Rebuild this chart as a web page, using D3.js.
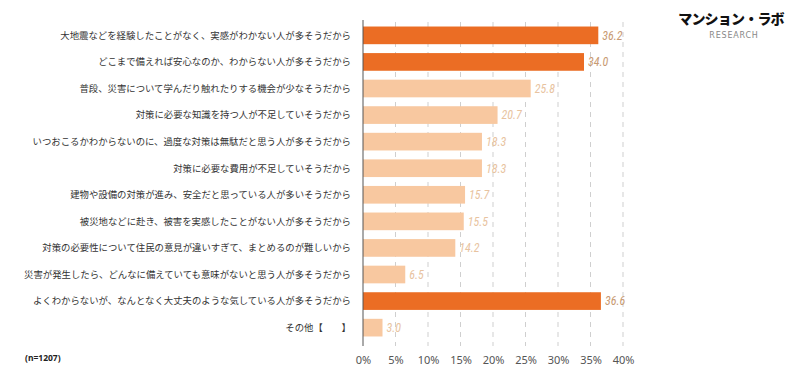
<!DOCTYPE html>
<html><head><meta charset="utf-8">
<script src="https://cdn.jsdelivr.net/npm/d3@7"></script>
<style>body{margin:0;background:#fff}</style>
</head><body>
<script>
const categories = [
 "大地震などを経験したことがなく、実感がわかない人が多そうだから",
 "どこまで備えれば安心なのか、わからない人が多そうだから",
 "普段、災害について学んだり触れたりする機会が少なそうだから",
 "対策に必要な知識を持つ人が不足していそうだから",
 "いつおこるかわからないのに、過度な対策は無駄だと思う人が多そうだから",
 "対策に必要な費用が不足していそうだから",
 "建物や設備の対策が進み、安全だと思っている人が多いそうだから",
 "被災地などに赴き、被害を実感したことがない人が多そうだから",
 "対策の必要性について住民の意見が違いすぎて、まとめるのが難しいから",
 "災害が発生したら、どんなに備えていても意味がないと思う人が多そうだから",
 "よくわからないが、なんとなく大丈夫のような気している人が多そうだから",
 "その他【　　】"
];
const values = [36.2, 34.0, 25.8, 20.7, 18.3, 18.3, 15.7, 15.5, 14.2, 6.5, 36.6, 3.0];
const highlight = [true, true, false, false, false, false, false, false, false, false, true, false];
const ticks = [0, 5, 10, 15, 20, 25, 30, 35, 40];

const W = 800, H = 379;
const svg = d3.select("body").append("svg").attr("width", W).attr("height", H);

const x = d3.scaleLinear().domain([0, 40]).range([363, 623]);
const y = d3.scaleBand().domain(categories).range([22, 341]).paddingInner(0.335).paddingOuter(0.17);

// grid
svg.append("g").selectAll("line").data(ticks.slice(1)).join("line")
  .attr("x1", d => x(d)).attr("x2", d => x(d))
  .attr("y1", 22).attr("y2", 346)
  .attr("stroke", "#cfcfcf").attr("stroke-width", 1).attr("stroke-dasharray", "5,5");

// bars
svg.append("g").selectAll("rect").data(values).join("rect")
  .attr("x", x(0)).attr("y", (d, i) => y(categories[i]))
  .attr("width", d => x(d) - x(0)).attr("height", y.bandwidth())
  .attr("fill", (d, i) => highlight[i] ? "#EB6D24" : "#F8C8A0");

// axis line
svg.append("line").attr("x1", x(0)).attr("x2", x(0)).attr("y1", 20).attr("y2", 346)
  .attr("stroke", "#555").attr("stroke-width", 1);

// value labels
svg.append("g").selectAll("text").data(values).join("text")
  .attr("x", d => x(d) + 4).attr("y", (d, i) => y(categories[i]) + y.bandwidth() / 2)
  .attr("dy", "0.36em")
  .attr("font-family", "'Roboto Condensed', 'DejaVu Sans Condensed', sans-serif")
  .attr("font-style", "italic").attr("font-size", 12)
  .attr("fill", (d, i) => highlight[i] ? "#C89A72" : "#E8C3A0")
  .text(d => d.toFixed(1));

// category labels
svg.append("g").selectAll("text").data(categories).join("text")
  .attr("x", 351).attr("y", d => y(d) + y.bandwidth() / 2)
  .attr("dy", "0.36em").attr("text-anchor", "end")
  .attr("font-family", "'Noto Sans CJK JP', sans-serif").attr("font-size", 9.4)
  .attr("fill", "#333").text(d => d);

// x tick labels
const xAxis = d3.axisBottom(x).tickValues(ticks).tickSize(0).tickFormat(d => d + "%");
const gx = svg.append("g").attr("transform", "translate(0,353)").call(xAxis);
gx.select(".domain").remove();
gx.selectAll("text").attr("font-family", "'Noto Sans', sans-serif").attr("font-size", 11).attr("fill", "#555");

// n label
svg.append("text").attr("x", 25).attr("y", 361)
  .attr("font-family", "'Noto Sans', sans-serif").attr("font-size", 8.5).attr("font-weight", "bold")
  .attr("fill", "#222").text("(n=1207)");

// logo
svg.append("text").attr("x", 731).attr("y", 24).attr("text-anchor", "middle")
  .attr("font-family", "'Noto Sans CJK JP', sans-serif").attr("font-weight", 900).attr("font-size", 14)
  .attr("letter-spacing", "-0.8").attr("fill", "#111").text("マンション・ラボ");
svg.append("text").attr("x", 734).attr("y", 38).attr("text-anchor", "middle")
  .attr("font-family", "'DejaVu Sans', sans-serif").attr("font-size", 8).attr("letter-spacing", "0.8")
  .attr("fill", "#888").text("RESEARCH");
</script>
</body></html>
